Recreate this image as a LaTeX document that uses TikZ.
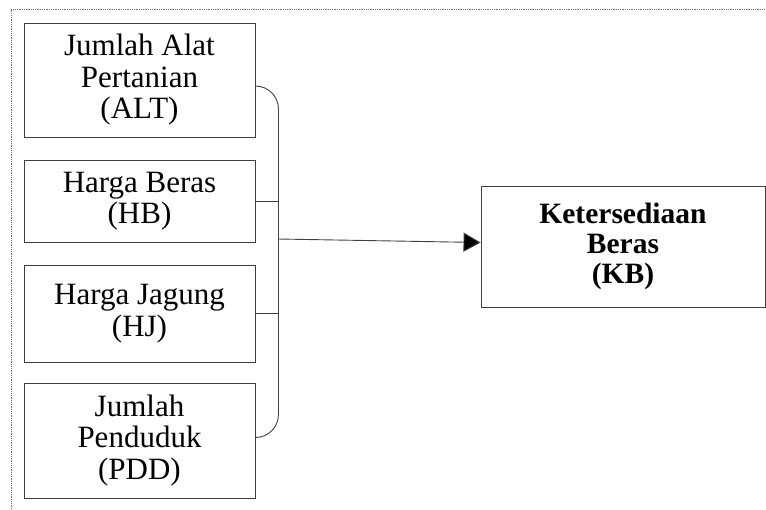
\documentclass[tikz,border=0pt]{standalone}
\usepackage{fontspec}
\setmainfont{Liberation Serif}
\usetikzlibrary{arrows.meta}

\begin{document}
\begin{tikzpicture}[x=1pt,y=-1pt,
    varbox/.style={draw=black!75,line width=0.9pt,minimum width=231pt,align=center,
      inner sep=0pt,font=\fontsize{31}{31.5}\selectfont},
    link/.style={draw=black!75,line width=0.9pt}]
\useasboundingbox (0,0) rectangle (766,509);
\draw[black!55,densely dotted,line width=0.8pt] (11,509) -- (11,9) -- (766,9);
\node[varbox,minimum height=114pt] (alt) at (139.5,80) {Jumlah Alat\\Pertanian\\(ALT)};
\node[varbox,minimum height=82pt] (hb) at (139.5,201) {Harga Beras\\(HB)};
\node[varbox,minimum height=97pt] (hj) at (139.5,313.5) {Harga Jagung\\(HJ)};
\node[varbox,minimum height=115pt] (pdd) at (139.5,440.5) {Jumlah\\Penduduk\\(PDD)};
\node[varbox,minimum width=284pt,minimum height=121pt,
  font=\bfseries\fontsize{29.5}{30}\selectfont] (kb) at (623,246.5) {Ketersediaan\\Beras\\(KB)};
\coordinate (join) at (278,239);
\draw[link,rounded corners=23pt] ([yshift=-6pt]alt.east) -- ++(23,0) |- ([yshift=3pt]pdd.east);
\draw[link] (hb.east) -- ++(23,0);
\draw[link] (hj.east) -- ++(23,0);
\draw[link,-{Triangle[length=17pt,width=19pt,fill=black]}] (join) -- ([yshift=4pt]kb.west);
\end{tikzpicture}
\end{document}
